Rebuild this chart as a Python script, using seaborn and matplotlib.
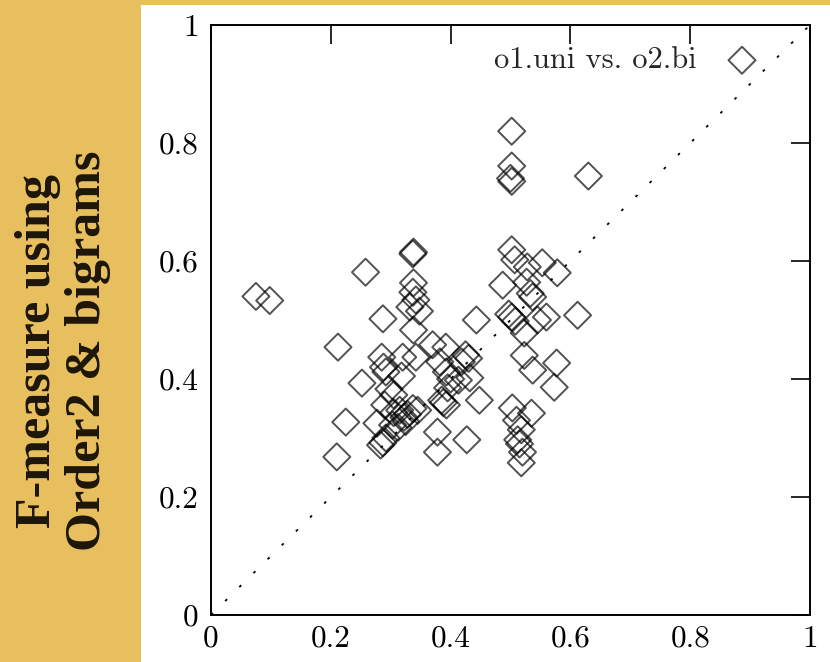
import matplotlib
matplotlib.use("Agg")
import matplotlib.pyplot as plt
from matplotlib.patches import Rectangle
import pandas as pd
import seaborn as sns

# F-measure per document: order-1 unigrams (x) vs order-2 bigrams (y)
o1_uni = [
    0.075, 0.098,
    0.212, 0.225, 0.210, 0.252, 0.258,
    0.287, 0.285, 0.288, 0.292, 0.297, 0.305, 0.290, 0.277, 0.303, 0.292, 0.287, 0.283,
    0.320, 0.318, 0.315, 0.322, 0.328, 0.337, 0.345, 0.312, 0.325, 0.338, 0.337,
    0.338, 0.337, 0.342, 0.332, 0.348, 0.338, 0.342, 0.305,
    0.370, 0.392, 0.382, 0.393, 0.385, 0.393, 0.388, 0.378, 0.378, 0.425,
    0.418, 0.430, 0.413, 0.432, 0.427, 0.448, 0.443, 0.400, 0.395,
    0.502, 0.502, 0.500, 0.502, 0.502, 0.507, 0.487, 0.502, 0.497, 0.508,
    0.503, 0.518, 0.512, 0.520, 0.518, 0.510, 0.515,
    0.630, 0.528, 0.553, 0.578, 0.527, 0.537, 0.533, 0.560, 0.612, 0.523,
    0.523, 0.537, 0.577, 0.573, 0.535, 0.545,
]
o2_bi = [
    0.540, 0.533,
    0.454, 0.327, 0.268, 0.393, 0.581,
    0.502, 0.437, 0.420, 0.412, 0.383, 0.373, 0.356, 0.325, 0.322, 0.300, 0.292, 0.288,
    0.437, 0.405, 0.347, 0.335, 0.340, 0.350, 0.347, 0.318, 0.328, 0.615, 0.612,
    0.563, 0.547, 0.534, 0.522, 0.515, 0.483, 0.437, 0.343,
    0.458, 0.454, 0.429, 0.412, 0.364, 0.356, 0.360, 0.310, 0.276, 0.441,
    0.429, 0.435, 0.398, 0.402, 0.297, 0.364, 0.500, 0.400, 0.385,
    0.820, 0.761, 0.740, 0.735, 0.619, 0.602, 0.559, 0.505, 0.510, 0.498,
    0.351, 0.314, 0.297, 0.276, 0.258, 0.330, 0.290,
    0.744, 0.590, 0.597, 0.580, 0.564, 0.539, 0.545, 0.505, 0.508, 0.478,
    0.440, 0.415, 0.427, 0.386, 0.342, 0.500,
]
series_label = "o1.uni vs. o2.bi"
tick_values = [0, 0.2, 0.4, 0.6, 0.8, 1]
tick_labels = ["0", "0.2", "0.4", "0.6", "0.8", "1"]
y_title = "F-measure using\nOrder2 & bigrams"

df = pd.DataFrame({"o1_uni": o1_uni, "o2_bi": o2_bi})

sns.set_style("white")
plt.rcParams["font.family"] = ["cmr10", "DejaVu Serif"]
plt.rcParams["axes.formatter.use_mathtext"] = True

fig = plt.figure(figsize=(8.3, 6.62), dpi=100)
fig.patch.set_facecolor("white")

# gold slide background on the left and top
gold = "#e7bf5e"
fig.patches.append(Rectangle((0, 0), 141 / 830, 1, transform=fig.transFigure,
                             facecolor=gold, edgecolor="none", zorder=0))
fig.patches.append(Rectangle((0, 1 - 5 / 662), 1, 5 / 662, transform=fig.transFigure,
                             facecolor=gold, edgecolor="none", zorder=0))

ax = fig.add_axes([211 / 830, 47 / 662, 599 / 830, 590 / 662])

ax.plot([0, 1], [0, 1], color="black", linewidth=1.3, linestyle=(0, (1.5, 9.5)),
        zorder=1)

sns.scatterplot(data=df, x="o1_uni", y="o2_bi", marker="D", s=190,
                edgecolor="black", linewidth=1.4, alpha=0.68,
                label=series_label, ax=ax, zorder=2)
for coll in ax.collections:
    coll.set_facecolor("none")

ax.set_xlim(0, 1)
ax.set_ylim(0, 1)
ax.set_xticks(tick_values, tick_labels)
ax.set_yticks(tick_values, tick_labels)
ax.set_xlabel("")
ax.set_ylabel("")
ax.tick_params(direction="in", length=14, width=1.2, top=True, right=True,
               labelsize=22.5, colors="black")
ax.tick_params(axis="y", pad=9)
ax.tick_params(axis="x", pad=7)
for sp in ax.spines.values():
    sp.set_linewidth(1.4)
    sp.set_color("black")

leg = ax.legend(loc="upper right", bbox_to_anchor=(0.912, 0.963), frameon=False,
                markerfirst=False, fontsize=22, handlelength=1.0,
                handletextpad=1.0, borderaxespad=0, borderpad=0)
for h in leg.legend_handles:
    h.set_facecolor("none")
    h.set_edgecolor("black")

fig.text(0.076, 0.47, y_title, rotation=90, ha="center", va="center",
         multialignment="center", fontsize=36, fontweight="bold",
         family=["Liberation Serif", "DejaVu Serif"], color="#1c160a",
         linespacing=1.1)

fig.savefig("out.png", dpi=100, facecolor=fig.get_facecolor())
